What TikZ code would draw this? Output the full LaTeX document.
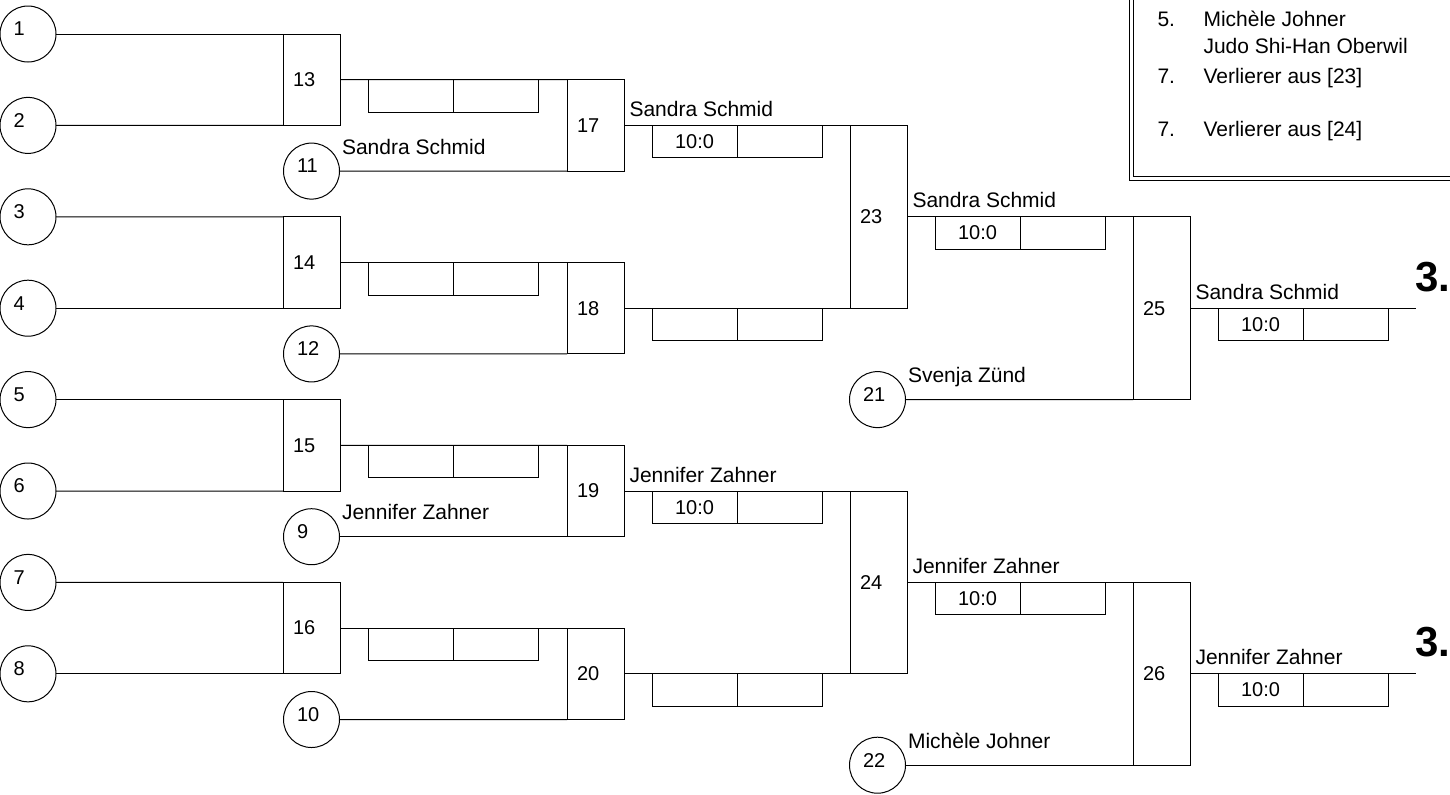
\documentclass[tikz,border=0pt]{standalone}
\usepackage{fontspec}
\setmainfont{Liberation Sans}
\usetikzlibrary{positioning}

\begin{document}
\begin{tikzpicture}[x=0.5pt, y=-0.5pt, line width=0.5pt,
  seed/.style={draw, circle, outer sep=0, inner sep=0, minimum size=28pt},
  seednum/.style={anchor=west, inner sep=0, xshift=-7.5pt, yshift=2.5pt, font=\fontsize{10}{12}\selectfont},
  match/.style={draw, rectangle, outer sep=0, inner xsep=5pt, inner ysep=0, minimum width=28.5pt, text width=18.5pt, align=left, font=\fontsize{10}{12}\selectfont},
  pairbox/.style={match, minimum height=45.7pt},
  quadbox/.style={match, minimum height=91.4pt},
  cell/.style={draw, rectangle, outer sep=0, inner sep=0, minimum width=42.5pt, minimum height=16.25pt, font=\fontsize{10}{12}\selectfont},
  winner/.style={anchor=base west, inner sep=0, xshift=2.5pt, yshift=4.5pt, font=\fontsize{10.5}{12}\selectfont},
  entrant/.style={anchor=base west, inner sep=0, xshift=1pt, yshift=8.5pt, font=\fontsize{10.5}{12}\selectfont},
  rank/.style={anchor=base west, inner sep=0, xshift=-0.5pt, yshift=8.5pt, font=\fontsize{21}{25}\selectfont\bfseries},
  legend/.style={anchor=base west, inner sep=0, font=\fontsize{10.5}{12}\selectfont}]

\useasboundingbox (0,0) rectangle (1450,794);

% seeds, first round
\node[seed] at (28,34) (s1) {};
\node[seednum] at (s1) (n1) {1};
\node[seed] at (28,125.4) (s2) {};
\node[seednum] at (s2) (n2) {2};
\node[seed] at (28,216.8) (s3) {};
\node[seednum] at (s3) (n3) {3};
\node[seed] at (28,308.2) (s4) {};
\node[seednum] at (s4) (n4) {4};
\node[seed] at (28,399.6) (s5) {};
\node[seednum] at (s5) (n5) {5};
\node[seed] at (28,491) (s6) {};
\node[seednum] at (s6) (n6) {6};
\node[seed] at (28,582.4) (s7) {};
\node[seednum] at (s7) (n7) {7};
\node[seed] at (28,673.8) (s8) {};
\node[seednum] at (s8) (n8) {8};

% seeds, later rounds
\node[seed] at (311.5,171.1) (s11) {};
\node[seednum] at (s11) (n11) {11};
\node[seed] at (311.5,353.9) (s12) {};
\node[seednum] at (s12) (n12) {12};
\node[seed] at (311.5,536.7) (s9) {};
\node[seednum] at (s9) (n9) {9};
\node[seed] at (311.5,719.5) (s10) {};
\node[seednum] at (s10) (n10) {10};
\node[seed] at (877.5,399.6) (s21) {};
\node[seednum] at (s21) (n21) {21};
\node[seed] at (877.5,765.2) (s22) {};
\node[seednum] at (s22) (n22) {22};

% bouts
\node[pairbox] at (311.5,79.7) (m13) {13};
\node[pairbox] at (311.5,262.5) (m14) {14};
\node[pairbox] at (311.5,445.3) (m15) {15};
\node[pairbox] at (311.5,628.1) (m16) {16};
\node[pairbox] at (595.5,125.4) (m17) {17};
\node[pairbox] at (595.5,308.2) (m18) {18};
\node[pairbox] at (595.5,491) (m19) {19};
\node[pairbox] at (595.5,673.8) (m20) {20};
\node[quadbox] at (878.5,216.8) (m23) {23};
\node[quadbox] at (878.5,582.4) (m24) {24};
\node[quadbox] at (1161.5,308.2) (m25) {25};
\node[quadbox] at (1161.5,673.8) (m26) {26};
\coordinate (e25) at (1416,308.2);
\coordinate (e26) at (1416,673.8);

% score cells
\node[cell, below right=0pt and 14pt of m13.east] (r13a) {};
\node[cell, right=0pt of r13a] (r13b) {};
\node[cell, below right=0pt and 14pt of m14.east] (r14a) {};
\node[cell, right=0pt of r14a] (r14b) {};
\node[cell, below right=0pt and 14pt of m15.east] (r15a) {};
\node[cell, right=0pt of r15a] (r15b) {};
\node[cell, below right=0pt and 14pt of m16.east] (r16a) {};
\node[cell, right=0pt of r16a] (r16b) {};
\node[cell, below right=0pt and 14pt of m17.east] (r17a) {10:0};
\node[cell, right=0pt of r17a] (r17b) {};
\node[cell, below right=0pt and 14pt of m18.east] (r18a) {};
\node[cell, right=0pt of r18a] (r18b) {};
\node[cell, below right=0pt and 14pt of m19.east] (r19a) {10:0};
\node[cell, right=0pt of r19a] (r19b) {};
\node[cell, below right=0pt and 14pt of m20.east] (r20a) {};
\node[cell, right=0pt of r20a] (r20b) {};
\node[cell, below right=0pt and 14pt of m23.east] (r23a) {10:0};
\node[cell, right=0pt of r23a] (r23b) {};
\node[cell, below right=0pt and 14pt of m24.east] (r24a) {10:0};
\node[cell, right=0pt of r24a] (r24b) {};
\node[cell, below right=0pt and 14pt of m25.east] (r25a) {10:0};
\node[cell, right=0pt of r25a] (r25b) {};
\node[cell, below right=0pt and 14pt of m26.east] (r26a) {10:0};
\node[cell, right=0pt of r26a] (r26b) {};

% names
\node[entrant] at (s11.east) (p11) {Sandra Schmid};
\node[entrant] at (s9.east) (p9) {Jennifer Zahner};
\node[entrant] at (s21.east) (p21) {Svenja Zünd};
\node[entrant] at (s22.east) (p22) {Michèle Johner};
\node[winner] at (m17.east) (w17) {Sandra Schmid};
\node[winner] at (m19.east) (w19) {Jennifer Zahner};
\node[winner] at (m23.east) (w23) {Sandra Schmid};
\node[winner] at (m24.east) (w24) {Jennifer Zahner};
\node[winner] at (m25.east) (w25) {Sandra Schmid};
\node[winner] at (m26.east) (w26) {Jennifer Zahner};
\node[rank] at (e25) (rank25) {3.};
\node[rank] at (e26) (rank26) {3.};

% lines
\draw (s1.east) -- (m13.north west);
\draw (s2.east) -- (m13.south west);
\draw (s3.east) -- (m14.north west);
\draw (s4.east) -- (m14.south west);
\draw (s5.east) -- (m15.north west);
\draw (s6.east) -- (m15.south west);
\draw (s7.east) -- (m16.north west);
\draw (s8.east) -- (m16.south west);
\draw (m13.east) -- (m17.north west);
\draw (s11.east) -- (m17.south west);
\draw (m14.east) -- (m18.north west);
\draw (s12.east) -- (m18.south west);
\draw (m15.east) -- (m19.north west);
\draw (s9.east) -- (m19.south west);
\draw (m16.east) -- (m20.north west);
\draw (s10.east) -- (m20.south west);
\draw (m17.east) -- (m23.north west);
\draw (m18.east) -- (m23.south west);
\draw (m19.east) -- (m24.north west);
\draw (m20.east) -- (m24.south west);
\draw (m23.east) -- (m25.north west);
\draw (s21.east) -- (m25.south west);
\draw (m24.east) -- (m26.north west);
\draw (s22.east) -- (m26.south west);
\draw (m25.east) -- (e25);
\draw (m26.east) -- (e26);

% ranking box, top right
\begin{scope}
\clip (0,0) rectangle (1450,794);
\draw[double, double distance=1.5pt] (1131,-20) rectangle (1480,178);
\end{scope}
\node[legend] at (1157,26) (l5) {5.};
\node[legend] at (1203,26) (l5name) {Michèle Johner};
\node[legend] at (1203,53) (l5club) {Judo Shi-Han Oberwil};
\node[legend] at (1157,83) (l7a) {7.};
\node[legend] at (1203,83) (l7aname) {Verlierer aus [23]};
\node[legend] at (1157,136) (l7b) {7.};
\node[legend] at (1203,136) (l7bname) {Verlierer aus [24]};
\end{tikzpicture}
\end{document}
